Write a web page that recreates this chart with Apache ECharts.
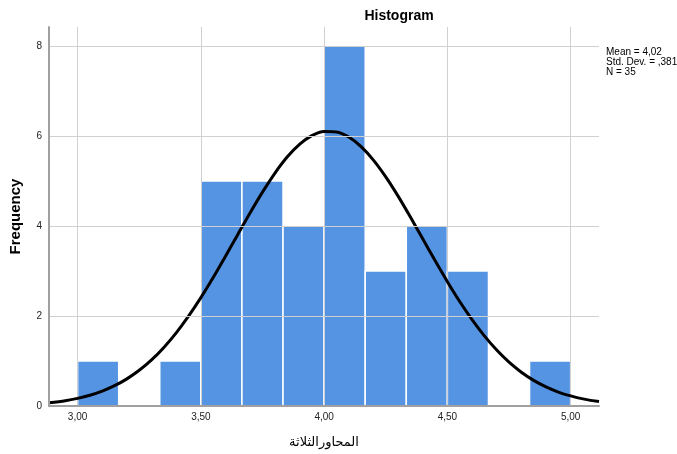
<!DOCTYPE html>
<html>
<head>
<meta charset="utf-8">
<script src="https://cdn.jsdelivr.net/npm/echarts@6/dist/echarts.min.js"></script>
<style>html,body{margin:0;padding:0;background:#fff}#c{width:677px;height:454px}</style>
</head>
<body>
<div id="c"></div>
<script>
// Histogram bins (width 1/6)
var binStart = [3.0, 3.1667, 3.3333, 3.5, 3.6667, 3.8333, 4.0, 4.1667, 4.3333, 4.5, 4.6667, 4.8333];
var binEnd   = [3.1667, 3.3333, 3.5, 3.6667, 3.8333, 4.0, 4.1667, 4.3333, 4.5, 4.6667, 4.8333, 5.0];
var counts   = [1, 0, 1, 5, 5, 4, 8, 3, 4, 3, 0, 1];
// Normal curve points
var curveX = [2.884, 2.95, 3.0, 3.05, 3.1, 3.15, 3.2, 3.25, 3.3, 3.35, 3.4, 3.45, 3.5, 3.55, 3.6, 3.65, 3.7, 3.75, 3.8, 3.85, 3.9, 3.95, 4.0, 4.05, 4.1, 4.15, 4.2, 4.25, 4.3, 4.35, 4.4, 4.45, 4.5, 4.55, 4.6, 4.65, 4.7, 4.75, 4.8, 4.85, 4.9, 4.95, 5.0, 5.05, 5.115];
var curveY = [0.072, 0.118, 0.170, 0.239, 0.331, 0.451, 0.603, 0.793, 1.024, 1.302, 1.625, 1.995, 2.407, 2.854, 3.327, 3.812, 4.293, 4.751, 5.170, 5.530, 5.812, 6.006, 6.100, 6.089, 5.975, 5.763, 5.463, 5.090, 4.663, 4.198, 3.714, 3.230, 2.762, 2.321, 1.917, 1.557, 1.242, 0.974, 0.751, 0.569, 0.424, 0.310, 0.224, 0.158, 0.098];
var xTicks = [3.0, 3.5, 4.0, 4.5, 5.0];
var xTickLabels = ['3,00', '3,50', '4,00', '4,50', '5,00'];
var statsLines = ['Mean = 4,02', 'Std. Dev. = ,381', 'N = 35'];

var chart = echarts.init(document.getElementById('c'), null, {renderer: 'canvas'});
var barData = binStart.map(function (s, i) { return [s, binEnd[i], counts[i]]; });
var lineData = curveX.map(function (x, i) { return [x, curveY[i]]; });
var FONT = 'Liberation Sans, Arial, DejaVu Sans, sans-serif';

chart.setOption({
  animation: false,
  title: {
    text: 'Histogram', left: 394, top: 4, textAlign: 'center',
    textStyle: {fontSize: 14, fontWeight: 'bold', color: '#000', fontFamily: FONT}
  },
  graphic: [{
    type: 'text', left: 606, top: 47,
    style: {text: statsLines.join('\n'), fontSize: 10, lineHeight: 10, fill: '#000', fontFamily: FONT}
  }],
  grid: {left: 48, right: 78, top: 27, bottom: 48},
  xAxis: {
    type: 'value', min: 2.884, max: 5.115, z: 10,
    name: 'المحاورالثلاثة', nameLocation: 'middle', nameGap: 30,
    nameTextStyle: {fontSize: 13, color: '#000', fontFamily: 'DejaVu Sans, sans-serif'},
    axisLine: {show: true, lineStyle: {color: '#a0a0a0', width: 2}},
    axisTick: {show: false},
    splitLine: {show: false},
    axisLabel: {
      customValues: xTicks, fontSize: 10, color: '#222', margin: 6, fontFamily: FONT,
      formatter: function (v) { var i = xTicks.indexOf(v); return i >= 0 ? xTickLabels[i] : ''; }
    }
  },
  yAxis: {
    type: 'value', min: 0, max: 8.42, interval: 2, z: 10,
    name: 'Frequency', nameLocation: 'middle', nameGap: 26, nameRotate: 90,
    nameTextStyle: {fontSize: 15, fontWeight: 'bold', color: '#000', fontFamily: FONT},
    axisLine: {show: true, lineStyle: {color: '#a0a0a0', width: 2}},
    axisTick: {show: false},
    splitLine: {show: true, showMinLine: false, showMaxLine: false, lineStyle: {color: '#d0d0d0', width: 1}},
    axisLabel: {fontSize: 10, color: '#222', margin: 7, fontFamily: FONT, showMaxLabel: false,
      formatter: function (v) { return Math.abs(v - Math.round(v)) < 1e-6 ? String(Math.round(v)) : ''; }}
  },
  series: [{
    type: 'line', data: [], silent: true,
    markLine: {
      silent: true, symbol: 'none', label: {show: false},
      lineStyle: {color: '#d0d0d0', width: 1, type: 'solid'},
      data: xTicks.map(function (t) { return {xAxis: t}; })
    }
  }, {
    type: 'custom', silent: true,
    data: barData,
    renderItem: function (params, api) {
      var p0 = api.coord([api.value(0), api.value(2)]);
      var p1 = api.coord([api.value(1), 0]);
      if (api.value(2) <= 0) return null;
      return {
        type: 'rect',
        shape: {x: p0[0], y: p0[1], width: p1[0] - p0[0], height: p1[1] - p0[1]},
        style: {fill: '#5594e3', stroke: '#ffffff', lineWidth: 1.5}
      };
    },
    encode: {x: [0, 1], y: 2}
  }, {
    type: 'line', data: lineData, smooth: 0.3, showSymbol: false, symbol: 'none',
    lineStyle: {color: '#000', width: 3}, silent: true, z: 5
  }]
});
</script>
</body>
</html>
